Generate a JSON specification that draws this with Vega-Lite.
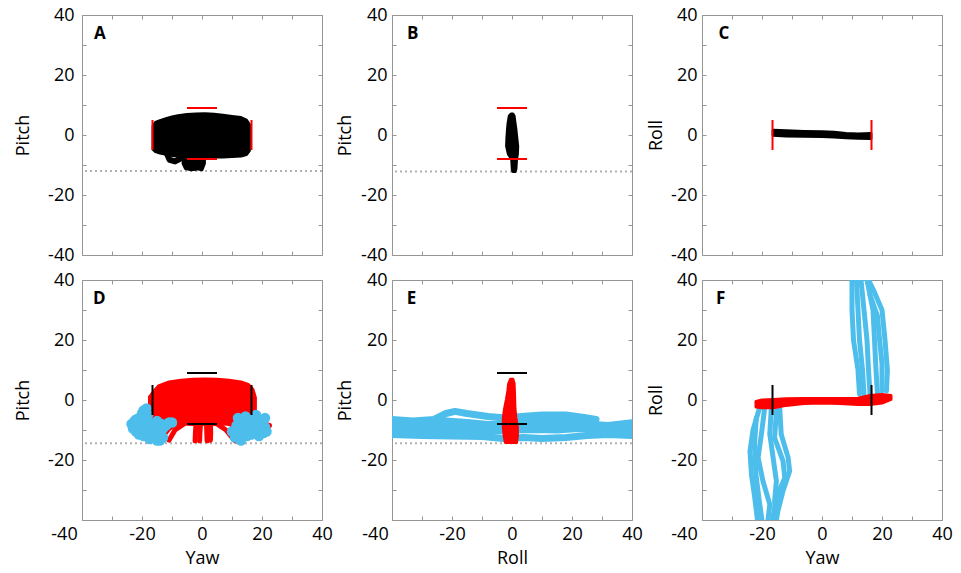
{
"$schema": "https://vega.github.io/schema/vega-lite/v6.json",
"background": "white",
"padding": {"left": 14, "top": 5, "right": 0, "bottom": 0},
"config": {
 "view": {"stroke": "#969696", "strokeWidth": 1},
 "font": "Open Sans",
 "axis": {"domain": false, "grid": false, "tickColor": "#969696", "tickSize": -4, "tickWidth": 1, "labelFont": "Open Sans", "labelFontSize": 18, "labelColor": "#000", "titleFont": "Open Sans", "titleFontSize": 18, "titleFontWeight": "normal", "titleColor": "#000", "labelOverlap": false, "labelFlush": false, "labelBound": false}
},
"datasets": {
 "mk4": [{"x":-16.5,"y":-5,"x2":-16.5,"y2":5},{"x":16.5,"y":-5,"x2":16.5,"y2":5},{"x":-5,"y":9,"x2":5,"y2":9},{"x":-5,"y":-8,"x2":5,"y2":-8}],
 "mkH": [{"x":-5,"y":9,"x2":5,"y2":9},{"x":-5,"y":-8,"x2":5,"y2":-8}],
 "mkV": [{"x":-16.5,"y":-5,"x2":-16.5,"y2":5},{"x":16.5,"y":-5,"x2":16.5,"y2":5}],
 "arA": [
  {"g":"m","x":-16.3,"t":3,"b":-4.8},{"g":"m","x":-15.5,"t":4.2,"b":-5.5},{"g":"m","x":-14,"t":4.8,"b":-6},{"g":"m","x":-12,"t":5.4,"b":-6.4},{"g":"m","x":-10,"t":6,"b":-6.8},{"g":"m","x":-8,"t":6.4,"b":-7},{"g":"m","x":-5,"t":6.8,"b":-7.2},{"g":"m","x":-2,"t":7,"b":-7.3},{"g":"m","x":1,"t":7.1,"b":-7.3},{"g":"m","x":4,"t":6.9,"b":-7.3},{"g":"m","x":7,"t":6.6,"b":-7.3},{"g":"m","x":10,"t":6.2,"b":-7.2},{"g":"m","x":13,"t":5.8,"b":-7},{"g":"m","x":14.8,"t":5,"b":-6.5},{"g":"m","x":15.8,"t":3.5,"b":-5.2},
  {"g":"b","x":-6.3,"t":-7,"b":-9.5},{"g":"b","x":-5.5,"t":-7,"b":-11.2},{"g":"b","x":-3.5,"t":-7,"b":-11.6},{"g":"b","x":-1.5,"t":-7,"b":-11.3},{"g":"b","x":0,"t":-7,"b":-11.6},{"g":"b","x":0.8,"t":-7,"b":-9.5}
 ],
 "trA": [{"g":"1","i":0,"x":-12,"y":-5.5},{"g":"1","i":1,"x":-10.8,"y":-8.3},{"g":"1","i":2,"x":-9,"y":-8.8},{"g":"1","i":3,"x":-7.5,"y":-8}],
 "arB": [
  {"y":7.0,"l":-0.3,"r":0.3},{"y":6.3,"l":-0.9,"r":0.7},{"y":4,"l":-1.3,"r":1.0},{"y":1.9,"l":-1.5,"r":1.3},{"y":-1,"l":-1.7,"r":1.6},{"y":-3.7,"l":-1.8,"r":1.9},{"y":-6.4,"l":-1.2,"r":1.8},{"y":-8.1,"l":-0.1,"r":1.5},{"y":-11.4,"l":0.1,"r":1.3},{"y":-12.2,"l":0.3,"r":1.0}
 ],
 "arC": [
  {"x":-16.3,"t":1.6,"b":-0.1},{"x":-12,"t":1.4,"b":-0.3},{"x":-6,"t":1.2,"b":-0.4},{"x":0,"t":1.1,"b":-0.5},{"x":4,"t":0.9,"b":-0.7},{"x":8,"t":0.5,"b":-0.9},{"x":12,"t":0.3,"b":-1.1},{"x":16.3,"t":0.5,"b":-1.2}
 ],
 "arD": [
  {"x":-17.5,"t":1.0,"b":-5.5},{"x":-16,"t":3.0,"b":-6.5},{"x":-14.5,"t":4.7,"b":-7},{"x":-11,"t":6.0,"b":-7.5},{"x":-7,"t":6.6,"b":-8},{"x":-3,"t":6.9,"b":-8.2},{"x":1,"t":7.0,"b":-8.2},{"x":5,"t":6.9,"b":-8.2},{"x":9,"t":6.6,"b":-8},{"x":13,"t":6.0,"b":-7.5},{"x":15.4,"t":5.2,"b":-7},{"x":17,"t":3.5,"b":-6},{"x":17.8,"t":0.8,"b":-5}
 ],
 "trD": [
  {"g":"1","i":0,"x":-8,"y":-7.5},{"g":"1","i":1,"x":-11,"y":-9.5},{"g":"1","i":2,"x":-13,"y":-12},{"g":"1","i":3,"x":-13.5,"y":-13.6},
  {"g":"2","i":0,"x":-6,"y":-8},{"g":"2","i":1,"x":-9,"y":-10},{"g":"2","i":2,"x":-11,"y":-13.4},
  {"g":"3","i":0,"x":-2,"y":-8},{"g":"3","i":1,"x":-2.2,"y":-11},{"g":"3","i":2,"x":-2.3,"y":-13.6},
  {"g":"4","i":0,"x":-0.5,"y":-8},{"g":"4","i":1,"x":-0.7,"y":-11},{"g":"4","i":2,"x":-0.8,"y":-13.6},
  {"g":"5","i":0,"x":1.5,"y":-8},{"g":"5","i":1,"x":1.6,"y":-11},{"g":"5","i":2,"x":1.7,"y":-13.6},
  {"g":"6","i":0,"x":2.8,"y":-8},{"g":"6","i":1,"x":2.9,"y":-11},{"g":"6","i":2,"x":2.8,"y":-13.4},
  {"g":"7","i":0,"x":5,"y":-8},{"g":"7","i":1,"x":8,"y":-10},{"g":"7","i":2,"x":10,"y":-12.5},{"g":"7","i":3,"x":11,"y":-13.6},
  {"g":"8","i":0,"x":8,"y":-7.5},{"g":"8","i":1,"x":12,"y":-9},{"g":"8","i":2,"x":14,"y":-12},
  {"g":"9","i":0,"x":15,"y":-6},{"g":"9","i":1,"x":19,"y":-7.5},{"g":"9","i":2,"x":22.5,"y":-8.5},
  {"g":"10","i":0,"x":-16,"y":-4.5},{"g":"10","i":1,"x":-18.5,"y":-6.5},{"g":"10","i":2,"x":-19.5,"y":-8}
 ],
 "ptD": [
  {"x":-23.5,"y":-8},{"x":-23,"y":-9.5},{"x":-22.5,"y":-7},{"x":-22,"y":-10.5},{"x":-21.5,"y":-8.5},{"x":-21,"y":-6},{"x":-21,"y":-11.5},{"x":-20.5,"y":-9.5},{"x":-20,"y":-7.5},{"x":-20,"y":-4.5},{"x":-19.5,"y":-3.5},{"x":-19.5,"y":-12},{"x":-19,"y":-10},{"x":-19,"y":-6},{"x":-18.5,"y":-8.5},{"x":-18,"y":-11},{"x":-18,"y":-5},{"x":-17.5,"y":-13},{"x":-17.5,"y":-7.5},{"x":-17,"y":-9.5},{"x":-16.5,"y":-12},{"x":-16,"y":-8},{"x":-15.5,"y":-10.5},{"x":-15,"y":-13.5},{"x":-15,"y":-7},{"x":-14.5,"y":-9},{"x":-14,"y":-11.5},{"x":-13.5,"y":-8},{"x":-13,"y":-9.5},{"x":-12,"y":-8.5},{"x":-11,"y":-7.5},{"x":-10,"y":-7.5},{"x":-13,"y":-12.5},{"x":-14,"y":-13.5},{"x":-22,"y":-6.5},{"x":-18.5,"y":-2.8},
  {"x":10,"y":-10.5},{"x":11,"y":-12.5},{"x":11.5,"y":-8.5},{"x":12,"y":-6},{"x":12.5,"y":-10},{"x":13,"y":-13.5},{"x":13,"y":-7.5},{"x":13.5,"y":-11.5},{"x":14,"y":-9},{"x":14.5,"y":-5.5},{"x":15,"y":-12},{"x":15,"y":-7.5},{"x":15.5,"y":-10},{"x":16,"y":-8.5},{"x":16.5,"y":-6.5},{"x":16.5,"y":-11.5},{"x":17,"y":-9.5},{"x":17.5,"y":-7.5},{"x":18,"y":-5},{"x":18,"y":-10.5},{"x":18.5,"y":-8.5},{"x":19,"y":-12},{"x":19,"y":-6.5},{"x":19.5,"y":-9.5},{"x":20,"y":-7.5},{"x":20.5,"y":-11},{"x":21,"y":-9},{"x":21.5,"y":-10.5},{"x":21,"y":-6},{"x":12,"y":-11.5}
 ],
 "arE": [
  {"y":6.9,"l":-0.5,"r":0.3},{"y":5.5,"l":-1.1,"r":0.7},{"y":3,"l":-1.4,"r":0.8},{"y":0,"l":-1.9,"r":0.9},{"y":-3,"l":-2.5,"r":1.0},{"y":-6,"l":-2.9,"r":1.3},{"y":-9,"l":-2.9,"r":1.8},{"y":-12,"l":-2.6,"r":1.8},{"y":-14.2,"l":-2.2,"r":1.5}
 ],
 "trE": [
  {"g":"1","i":0,"x":-40,"y":-6.5},{"g":"1","i":1,"x":-33,"y":-7},{"g":"1","i":2,"x":-26,"y":-6.5},{"g":"1","i":3,"x":-22,"y":-4.5},{"g":"1","i":4,"x":-19,"y":-3.8},{"g":"1","i":5,"x":-15,"y":-4.5},{"g":"1","i":6,"x":-8,"y":-5.5},{"g":"1","i":7,"x":-2,"y":-6},{"g":"1","i":8,"x":3,"y":-5.5},{"g":"1","i":9,"x":10,"y":-5},{"g":"1","i":10,"x":18,"y":-5},{"g":"1","i":11,"x":24,"y":-5.8},{"g":"1","i":12,"x":28,"y":-6.5},
  {"g":"2","i":0,"x":-40,"y":-8.5},{"g":"2","i":1,"x":-30,"y":-8.5},{"g":"2","i":2,"x":-22,"y":-7},{"g":"2","i":3,"x":-15,"y":-7.5},{"g":"2","i":4,"x":-8,"y":-8.2},{"g":"2","i":5,"x":-2,"y":-7.8},{"g":"2","i":6,"x":4,"y":-7.2},{"g":"2","i":7,"x":10,"y":-7},{"g":"2","i":8,"x":18,"y":-7.2},{"g":"2","i":9,"x":25,"y":-8},{"g":"2","i":10,"x":32,"y":-8.5},{"g":"2","i":11,"x":40,"y":-7.6},
  {"g":"5","i":0,"x":-40,"y":-9.5},{"g":"5","i":1,"x":-28,"y":-9.8},{"g":"5","i":2,"x":-20,"y":-9},{"g":"5","i":3,"x":-10,"y":-9.3},{"g":"5","i":4,"x":0,"y":-9},{"g":"5","i":5,"x":10,"y":-8.4},{"g":"5","i":6,"x":20,"y":-8.6},{"g":"5","i":7,"x":28,"y":-9},{"g":"5","i":8,"x":36,"y":-9.5},{"g":"5","i":9,"x":40,"y":-9},
  {"g":"3","i":0,"x":-40,"y":-10.5},{"g":"3","i":1,"x":-30,"y":-10.8},{"g":"3","i":2,"x":-22,"y":-10.5},{"g":"3","i":3,"x":-15,"y":-10.8},{"g":"3","i":4,"x":-8,"y":-10.5},{"g":"3","i":5,"x":0,"y":-10},{"g":"3","i":6,"x":8,"y":-9.8},{"g":"3","i":7,"x":15,"y":-10},{"g":"3","i":8,"x":22,"y":-9.5},{"g":"3","i":9,"x":30,"y":-10},{"g":"3","i":10,"x":40,"y":-10},
  {"g":"4","i":0,"x":-40,"y":-11.5},{"g":"4","i":1,"x":-30,"y":-11.8},{"g":"4","i":2,"x":-20,"y":-12},{"g":"4","i":3,"x":-10,"y":-12.2},{"g":"4","i":4,"x":-3,"y":-12.8},{"g":"4","i":5,"x":4,"y":-12.5},{"g":"4","i":6,"x":10,"y":-12.8},{"g":"4","i":7,"x":18,"y":-12.5},{"g":"4","i":8,"x":25,"y":-11.8},{"g":"4","i":9,"x":32,"y":-11.5},{"g":"4","i":10,"x":40,"y":-11.8}
 ],
 "arF": [
  {"x":-22,"t":-0.5,"b":-2.3},{"x":-20,"t":0,"b":-2.6},{"x":-16,"t":0.2,"b":-2.6},{"x":-12,"t":0.4,"b":-1.8},{"x":-6,"t":0.5,"b":-1.2},{"x":0,"t":0.5,"b":-1.0},{"x":6,"t":0.5,"b":-1.2},{"x":12,"t":0.6,"b":-1.5},{"x":16,"t":1.5,"b":-1.5},{"x":20,"t":1.8,"b":-1.0},{"x":23,"t":1.5,"b":0.2}
 ],
 "trF": [
  {"g":"L1","i":0,"x":-20.8,"y":-2.6},{"g":"L1","i":1,"x":-23,"y":-10},{"g":"L1","i":2,"x":-24,"y":-17},{"g":"L1","i":3,"x":-23.5,"y":-25},{"g":"L1","i":4,"x":-22.5,"y":-32},{"g":"L1","i":5,"x":-21.5,"y":-40},
  {"g":"L2","i":0,"x":-19.1,"y":-2.6},{"g":"L2","i":1,"x":-20.2,"y":-11.4},{"g":"L2","i":2,"x":-21.3,"y":-19.2},{"g":"L2","i":3,"x":-19.7,"y":-27},{"g":"L2","i":4,"x":-17.4,"y":-34.8},{"g":"L2","i":5,"x":-18,"y":-40},
  {"g":"L3","i":0,"x":-16.9,"y":-2.6},{"g":"L3","i":1,"x":-17.4,"y":-11.4},{"g":"L3","i":2,"x":-16.3,"y":-19.2},{"g":"L3","i":3,"x":-15.2,"y":-27},{"g":"L3","i":4,"x":-15.8,"y":-33.7},{"g":"L3","i":5,"x":-15.2,"y":-40},
  {"g":"L4","i":0,"x":-14.1,"y":-2.6},{"g":"L4","i":1,"x":-13.6,"y":-11.4},{"g":"L4","i":2,"x":-11.3,"y":-19.2},{"g":"L4","i":3,"x":-10.8,"y":-23.7},{"g":"L4","i":4,"x":-13,"y":-30.3},{"g":"L4","i":5,"x":-14.7,"y":-37},{"g":"L4","i":6,"x":-15.2,"y":-40},
  {"g":"L5","i":0,"x":-15.2,"y":-3.7},{"g":"L5","i":1,"x":-15.8,"y":-12.6},{"g":"L5","i":2,"x":-13,"y":-20.3},{"g":"L5","i":3,"x":-12.4,"y":-25.9},{"g":"L5","i":4,"x":-15.2,"y":-32.6},{"g":"L5","i":5,"x":-16.5,"y":-40},
  {"g":"L6","i":0,"x":-21.9,"y":-6},{"g":"L6","i":1,"x":-22.5,"y":-15},{"g":"L6","i":2,"x":-22,"y":-25},{"g":"L6","i":3,"x":-21,"y":-33},{"g":"L6","i":4,"x":-20,"y":-40},
  {"g":"U1","i":0,"x":12.5,"y":2},{"g":"U1","i":1,"x":12,"y":10},{"g":"U1","i":2,"x":10.5,"y":20},{"g":"U1","i":3,"x":10,"y":30},{"g":"U1","i":4,"x":10,"y":40},
  {"g":"U2","i":0,"x":14,"y":2},{"g":"U2","i":1,"x":13.5,"y":10},{"g":"U2","i":2,"x":12.5,"y":20},{"g":"U2","i":3,"x":12,"y":30},{"g":"U2","i":4,"x":11.5,"y":40},
  {"g":"U3","i":0,"x":16,"y":2},{"g":"U3","i":1,"x":15.5,"y":10},{"g":"U3","i":2,"x":15,"y":20},{"g":"U3","i":3,"x":14,"y":30},{"g":"U3","i":4,"x":13,"y":40},
  {"g":"U4","i":0,"x":18.5,"y":2},{"g":"U4","i":1,"x":18,"y":10},{"g":"U4","i":2,"x":17.5,"y":20},{"g":"U4","i":3,"x":17,"y":30},{"g":"U4","i":4,"x":15,"y":40},
  {"g":"U5","i":0,"x":21.5,"y":3},{"g":"U5","i":1,"x":21.8,"y":10},{"g":"U5","i":2,"x":21,"y":20},{"g":"U5","i":3,"x":20,"y":30},{"g":"U5","i":4,"x":17,"y":37},{"g":"U5","i":5,"x":15.5,"y":40},
  {"g":"U6","i":0,"x":20,"y":3},{"g":"U6","i":1,"x":20,"y":12},{"g":"U6","i":2,"x":19,"y":22},{"g":"U6","i":3,"x":18.5,"y":28},{"g":"U6","i":4,"x":16,"y":35}
 ]
},
"columns": 3,
"spacing": {"row": 25, "column": 70},
"bounds": "flush",
"concat": [
 {
  "width": 240, "height": 240,
  "resolve": {"axis": {"x": "independent", "y": "independent"}},
  "layer": [
   {"data": {"name": "mk4"}, "mark": {"type": "rule", "opacity": 0}, "encoding": {"x": {"field": "x", "type": "quantitative", "scale": {"domain": [-40,40], "nice": false, "zero": false}, "axis": {"orient": "top", "values": [-40,-30,-20,-10,0,10,20,30,40], "labels": false, "title": null}}, "y": {"field": "y", "type": "quantitative", "scale": {"domain": [-40,40], "nice": false, "zero": false}, "axis": {"orient": "right", "values": [-40,-30,-20,-10,0,10,20,30,40], "labels": false, "title": null}}}},
   {"data": {"values": [{"v": -12}]}, "mark": {"type": "rule", "color": "#b0b0b0", "strokeDash": [2,3], "strokeWidth": 2}, "encoding": {"y": {"field": "v", "type": "quantitative", "scale": {"domain": [-40,40], "nice": false, "zero": false}, "axis": null}}},
   {"data": {"name": "arA"}, "mark": {"type": "area", "color": "#000", "stroke": "#000", "strokeWidth": 3, "strokeJoin": "round", "clip": true}, "encoding": {"x": {"field": "x", "type": "quantitative", "scale": {"domain": [-40,40], "nice": false, "zero": false}, "axis": null}, "y": {"field": "t", "type": "quantitative", "scale": {"domain": [-40,40], "nice": false, "zero": false}, "axis": null}, "y2": {"field": "b"}, "detail": {"field": "g"}}},
   {"data": {"name": "trA"}, "mark": {"type": "line", "color": "#000", "strokeWidth": 6, "strokeCap": "round", "strokeJoin": "round"}, "encoding": {"x": {"field": "x", "type": "quantitative", "scale": {"domain": [-40,40], "nice": false, "zero": false}, "axis": null}, "y": {"field": "y", "type": "quantitative", "scale": {"domain": [-40,40], "nice": false, "zero": false}, "axis": null}, "detail": {"field": "g"}, "order": {"field": "i"}}},
   {"data": {"name": "mk4"}, "mark": {"type": "rule", "color": "#ff0000", "strokeWidth": 2}, "encoding": {"x": {"field": "x", "type": "quantitative", "scale": {"domain": [-40,40], "nice": false, "zero": false}, "axis": {"orient": "bottom", "values": [-40,-30,-20,-10,0,10,20,30,40], "labels": false, "title": null}}, "y": {"field": "y", "type": "quantitative", "scale": {"domain": [-40,40], "nice": false, "zero": false}, "axis": {"orient": "left", "values": [-40,-30,-20,-10,0,10,20,30,40], "labelExpr": "datum.value % 20 === 0 ? '' + datum.value : ''", "title": "Pitch", "labelPadding": 12, "titlePadding": 15}}, "x2": {"field": "x2"}, "y2": {"field": "y2"}}},
   {"data": {"values": [{"x": -36, "y": 32, "t": "A"}]}, "mark": {"type": "text", "align": "left", "baseline": "alphabetic", "fontSize": 17, "fontWeight": "bold", "font": "Open Sans"}, "encoding": {"x": {"field": "x", "type": "quantitative", "scale": {"domain": [-40,40], "nice": false, "zero": false}, "axis": null}, "y": {"field": "y", "type": "quantitative", "scale": {"domain": [-40,40], "nice": false, "zero": false}, "axis": null}, "text": {"field": "t"}}}
  ]
 },
 {
  "width": 240, "height": 240,
  "resolve": {"axis": {"x": "independent", "y": "independent"}},
  "layer": [
   {"data": {"name": "mkH"}, "mark": {"type": "rule", "opacity": 0}, "encoding": {"x": {"field": "x", "type": "quantitative", "scale": {"domain": [-40,40], "nice": false, "zero": false}, "axis": {"orient": "top", "values": [-40,-30,-20,-10,0,10,20,30,40], "labels": false, "title": null}}, "y": {"field": "y", "type": "quantitative", "scale": {"domain": [-40,40], "nice": false, "zero": false}, "axis": {"orient": "right", "values": [-40,-30,-20,-10,0,10,20,30,40], "labels": false, "title": null}}}},
   {"data": {"values": [{"v": -12.2}]}, "mark": {"type": "rule", "color": "#b0b0b0", "strokeDash": [2,3], "strokeWidth": 2}, "encoding": {"y": {"field": "v", "type": "quantitative", "scale": {"domain": [-40,40], "nice": false, "zero": false}, "axis": null}}},
   {"data": {"name": "arB"}, "mark": {"type": "area", "orient": "horizontal", "color": "#000", "stroke": "#000", "strokeWidth": 3, "strokeJoin": "round", "clip": true}, "encoding": {"y": {"field": "y", "type": "quantitative", "scale": {"domain": [-40,40], "nice": false, "zero": false}, "axis": null}, "x": {"field": "l", "type": "quantitative", "scale": {"domain": [-40,40], "nice": false, "zero": false}, "axis": null}, "x2": {"field": "r"}}},
   {"data": {"name": "mkH"}, "mark": {"type": "rule", "color": "#ff0000", "strokeWidth": 2}, "encoding": {"x": {"field": "x", "type": "quantitative", "scale": {"domain": [-40,40], "nice": false, "zero": false}, "axis": {"orient": "bottom", "values": [-40,-30,-20,-10,0,10,20,30,40], "labels": false, "title": null}}, "y": {"field": "y", "type": "quantitative", "scale": {"domain": [-40,40], "nice": false, "zero": false}, "axis": {"orient": "left", "values": [-40,-30,-20,-10,0,10,20,30,40], "labelExpr": "datum.value % 20 === 0 ? '' + datum.value : ''", "title": "Pitch", "labelPadding": 9, "titlePadding": 6}}, "x2": {"field": "x2"}, "y2": {"field": "y2"}}},
   {"data": {"values": [{"x": -35, "y": 32, "t": "B"}]}, "mark": {"type": "text", "align": "left", "baseline": "alphabetic", "fontSize": 17, "fontWeight": "bold", "font": "Open Sans"}, "encoding": {"x": {"field": "x", "type": "quantitative", "scale": {"domain": [-40,40], "nice": false, "zero": false}, "axis": null}, "y": {"field": "y", "type": "quantitative", "scale": {"domain": [-40,40], "nice": false, "zero": false}, "axis": null}, "text": {"field": "t"}}}
  ]
 },
 {
  "width": 240, "height": 240,
  "resolve": {"axis": {"x": "independent", "y": "independent"}},
  "layer": [
   {"data": {"name": "mkV"}, "mark": {"type": "rule", "opacity": 0}, "encoding": {"x": {"field": "x", "type": "quantitative", "scale": {"domain": [-40,40], "nice": false, "zero": false}, "axis": {"orient": "top", "values": [-40,-30,-20,-10,0,10,20,30,40], "labels": false, "title": null}}, "y": {"field": "y", "type": "quantitative", "scale": {"domain": [-40,40], "nice": false, "zero": false}, "axis": {"orient": "right", "values": [-40,-30,-20,-10,0,10,20,30,40], "labels": false, "title": null}}}},
   {"data": {"name": "arC"}, "mark": {"type": "area", "color": "#000", "stroke": "#000", "strokeWidth": 3, "strokeJoin": "round", "clip": true}, "encoding": {"x": {"field": "x", "type": "quantitative", "scale": {"domain": [-40,40], "nice": false, "zero": false}, "axis": null}, "y": {"field": "t", "type": "quantitative", "scale": {"domain": [-40,40], "nice": false, "zero": false}, "axis": null}, "y2": {"field": "b"}}},
   {"data": {"name": "mkV"}, "mark": {"type": "rule", "color": "#ff0000", "strokeWidth": 2}, "encoding": {"x": {"field": "x", "type": "quantitative", "scale": {"domain": [-40,40], "nice": false, "zero": false}, "axis": {"orient": "bottom", "values": [-40,-30,-20,-10,0,10,20,30,40], "labels": false, "title": null}}, "y": {"field": "y", "type": "quantitative", "scale": {"domain": [-40,40], "nice": false, "zero": false}, "axis": {"orient": "left", "values": [-40,-30,-20,-10,0,10,20,30,40], "labelExpr": "datum.value % 20 === 0 ? '' + datum.value : ''", "title": "Roll", "labelPadding": 9, "titlePadding": 5.5}}, "x2": {"field": "x2"}, "y2": {"field": "y2"}}},
   {"data": {"values": [{"x": -34.5, "y": 32, "t": "C"}]}, "mark": {"type": "text", "align": "left", "baseline": "alphabetic", "fontSize": 17, "fontWeight": "bold", "font": "Open Sans"}, "encoding": {"x": {"field": "x", "type": "quantitative", "scale": {"domain": [-40,40], "nice": false, "zero": false}, "axis": null}, "y": {"field": "y", "type": "quantitative", "scale": {"domain": [-40,40], "nice": false, "zero": false}, "axis": null}, "text": {"field": "t"}}}
  ]
 },
 {
  "width": 240, "height": 240,
  "resolve": {"axis": {"x": "independent", "y": "independent"}},
  "layer": [
   {"data": {"name": "mk4"}, "mark": {"type": "rule", "opacity": 0}, "encoding": {"x": {"field": "x", "type": "quantitative", "scale": {"domain": [-40,40], "nice": false, "zero": false}, "axis": {"orient": "top", "values": [-40,-30,-20,-10,0,10,20,30,40], "labels": false, "title": null}}, "y": {"field": "y", "type": "quantitative", "scale": {"domain": [-40,40], "nice": false, "zero": false}, "axis": {"orient": "right", "values": [-40,-30,-20,-10,0,10,20,30,40], "labels": false, "title": null}}}},
   {"data": {"values": [{"v": -14.4}]}, "mark": {"type": "rule", "color": "#b0b0b0", "strokeDash": [2,3], "strokeWidth": 2}, "encoding": {"y": {"field": "v", "type": "quantitative", "scale": {"domain": [-40,40], "nice": false, "zero": false}, "axis": null}}},
   {"data": {"name": "arD"}, "mark": {"type": "area", "color": "#ff0000", "stroke": "#ff0000", "strokeWidth": 3, "strokeJoin": "round", "clip": true}, "encoding": {"x": {"field": "x", "type": "quantitative", "scale": {"domain": [-40,40], "nice": false, "zero": false}, "axis": null}, "y": {"field": "t", "type": "quantitative", "scale": {"domain": [-40,40], "nice": false, "zero": false}, "axis": null}, "y2": {"field": "b"}}},
   {"data": {"name": "trD"}, "mark": {"type": "line", "color": "#ff0000", "strokeWidth": 5, "strokeCap": "round", "strokeJoin": "round"}, "encoding": {"x": {"field": "x", "type": "quantitative", "scale": {"domain": [-40,40], "nice": false, "zero": false}, "axis": null}, "y": {"field": "y", "type": "quantitative", "scale": {"domain": [-40,40], "nice": false, "zero": false}, "axis": null}, "detail": {"field": "g"}, "order": {"field": "i"}}},
   {"data": {"name": "ptD"}, "mark": {"type": "circle", "color": "#4dbeeb", "opacity": 1, "size": 110}, "encoding": {"x": {"field": "x", "type": "quantitative", "scale": {"domain": [-40,40], "nice": false, "zero": false}, "axis": null}, "y": {"field": "y", "type": "quantitative", "scale": {"domain": [-40,40], "nice": false, "zero": false}, "axis": null}}},
   {"data": {"name": "mk4"}, "mark": {"type": "rule", "color": "#000", "strokeWidth": 2}, "encoding": {"x": {"field": "x", "type": "quantitative", "scale": {"domain": [-40,40], "nice": false, "zero": false}, "axis": {"orient": "bottom", "values": [-40,-30,-20,-10,0,10,20,30,40], "labelExpr": "datum.value % 20 === 0 ? '' + datum.value : ''", "labelOffset": {"condition": {"test": "datum.value === -40", "value": -18}, "value": 0}, "title": "Yaw", "labelPadding": 9, "titlePadding": 6}}, "y": {"field": "y", "type": "quantitative", "scale": {"domain": [-40,40], "nice": false, "zero": false}, "axis": {"orient": "left", "values": [-40,-30,-20,-10,0,10,20,30,40], "labelExpr": "datum.value % 20 === 0 && datum.value > -40 ? '' + datum.value : ''", "title": "Pitch", "labelPadding": 12, "titlePadding": 15}}, "x2": {"field": "x2"}, "y2": {"field": "y2"}}},
   {"data": {"values": [{"x": -36.3, "y": 32, "t": "D"}]}, "mark": {"type": "text", "align": "left", "baseline": "alphabetic", "fontSize": 17, "fontWeight": "bold", "font": "Open Sans"}, "encoding": {"x": {"field": "x", "type": "quantitative", "scale": {"domain": [-40,40], "nice": false, "zero": false}, "axis": null}, "y": {"field": "y", "type": "quantitative", "scale": {"domain": [-40,40], "nice": false, "zero": false}, "axis": null}, "text": {"field": "t"}}}
  ]
 },
 {
  "width": 240, "height": 240,
  "resolve": {"axis": {"x": "independent", "y": "independent"}},
  "layer": [
   {"data": {"name": "mkH"}, "mark": {"type": "rule", "opacity": 0}, "encoding": {"x": {"field": "x", "type": "quantitative", "scale": {"domain": [-40,40], "nice": false, "zero": false}, "axis": {"orient": "top", "values": [-40,-30,-20,-10,0,10,20,30,40], "labels": false, "title": null}}, "y": {"field": "y", "type": "quantitative", "scale": {"domain": [-40,40], "nice": false, "zero": false}, "axis": {"orient": "right", "values": [-40,-30,-20,-10,0,10,20,30,40], "labels": false, "title": null}}}},
   {"data": {"values": [{"v": -14.4}]}, "mark": {"type": "rule", "color": "#b0b0b0", "strokeDash": [2,3], "strokeWidth": 2}, "encoding": {"y": {"field": "v", "type": "quantitative", "scale": {"domain": [-40,40], "nice": false, "zero": false}, "axis": null}}},
   {"data": {"name": "trE"}, "mark": {"type": "line", "color": "#4dbeeb", "strokeWidth": 7, "strokeCap": "round", "strokeJoin": "round", "clip": true}, "encoding": {"x": {"field": "x", "type": "quantitative", "scale": {"domain": [-40,40], "nice": false, "zero": false}, "axis": null}, "y": {"field": "y", "type": "quantitative", "scale": {"domain": [-40,40], "nice": false, "zero": false}, "axis": null}, "detail": {"field": "g"}, "order": {"field": "i"}}},
   {"data": {"name": "arE"}, "mark": {"type": "area", "orient": "horizontal", "color": "#ff0000", "stroke": "#ff0000", "strokeWidth": 3, "strokeJoin": "round", "clip": true}, "encoding": {"y": {"field": "y", "type": "quantitative", "scale": {"domain": [-40,40], "nice": false, "zero": false}, "axis": null}, "x": {"field": "l", "type": "quantitative", "scale": {"domain": [-40,40], "nice": false, "zero": false}, "axis": null}, "x2": {"field": "r"}}},
   {"data": {"name": "mkH"}, "mark": {"type": "rule", "color": "#000", "strokeWidth": 2}, "encoding": {"x": {"field": "x", "type": "quantitative", "scale": {"domain": [-40,40], "nice": false, "zero": false}, "axis": {"orient": "bottom", "values": [-40,-30,-20,-10,0,10,20,30,40], "labelExpr": "datum.value % 20 === 0 ? '' + datum.value : ''", "labelOffset": {"condition": {"test": "datum.value === -40", "value": -17}, "value": 0}, "title": "Roll", "labelPadding": 9, "titlePadding": 6}}, "y": {"field": "y", "type": "quantitative", "scale": {"domain": [-40,40], "nice": false, "zero": false}, "axis": {"orient": "left", "values": [-40,-30,-20,-10,0,10,20,30,40], "labelExpr": "datum.value % 20 === 0 && datum.value > -40 ? '' + datum.value : ''", "title": "Pitch", "labelPadding": 9, "titlePadding": 6}}, "x2": {"field": "x2"}, "y2": {"field": "y2"}}},
   {"data": {"values": [{"x": -35.1, "y": 32, "t": "E"}]}, "mark": {"type": "text", "align": "left", "baseline": "alphabetic", "fontSize": 17, "fontWeight": "bold", "font": "Open Sans"}, "encoding": {"x": {"field": "x", "type": "quantitative", "scale": {"domain": [-40,40], "nice": false, "zero": false}, "axis": null}, "y": {"field": "y", "type": "quantitative", "scale": {"domain": [-40,40], "nice": false, "zero": false}, "axis": null}, "text": {"field": "t"}}}
  ]
 },
 {
  "width": 240, "height": 240,
  "resolve": {"axis": {"x": "independent", "y": "independent"}},
  "layer": [
   {"data": {"name": "mkV"}, "mark": {"type": "rule", "opacity": 0}, "encoding": {"x": {"field": "x", "type": "quantitative", "scale": {"domain": [-40,40], "nice": false, "zero": false}, "axis": {"orient": "top", "values": [-40,-30,-20,-10,0,10,20,30,40], "labels": false, "title": null}}, "y": {"field": "y", "type": "quantitative", "scale": {"domain": [-40,40], "nice": false, "zero": false}, "axis": {"orient": "right", "values": [-40,-30,-20,-10,0,10,20,30,40], "labels": false, "title": null}}}},
   {"data": {"name": "trF"}, "mark": {"type": "line", "color": "#4dbeeb", "strokeWidth": 5, "strokeCap": "round", "strokeJoin": "round", "clip": true}, "encoding": {"x": {"field": "x", "type": "quantitative", "scale": {"domain": [-40,40], "nice": false, "zero": false}, "axis": null}, "y": {"field": "y", "type": "quantitative", "scale": {"domain": [-40,40], "nice": false, "zero": false}, "axis": null}, "detail": {"field": "g"}, "order": {"field": "i"}}},
   {"data": {"name": "arF"}, "mark": {"type": "area", "color": "#ff0000", "stroke": "#ff0000", "strokeWidth": 3, "strokeJoin": "round", "clip": true}, "encoding": {"x": {"field": "x", "type": "quantitative", "scale": {"domain": [-40,40], "nice": false, "zero": false}, "axis": null}, "y": {"field": "t", "type": "quantitative", "scale": {"domain": [-40,40], "nice": false, "zero": false}, "axis": null}, "y2": {"field": "b"}}},
   {"data": {"name": "mkV"}, "mark": {"type": "rule", "color": "#000", "strokeWidth": 2}, "encoding": {"x": {"field": "x", "type": "quantitative", "scale": {"domain": [-40,40], "nice": false, "zero": false}, "axis": {"orient": "bottom", "values": [-40,-30,-20,-10,0,10,20,30,40], "labelExpr": "datum.value % 20 === 0 ? '' + datum.value : ''", "labelOffset": {"condition": {"test": "datum.value === -40", "value": -18}, "value": 0}, "title": "Yaw", "labelPadding": 9, "titlePadding": 6}}, "y": {"field": "y", "type": "quantitative", "scale": {"domain": [-40,40], "nice": false, "zero": false}, "axis": {"orient": "left", "values": [-40,-30,-20,-10,0,10,20,30,40], "labelExpr": "datum.value % 20 === 0 && datum.value > -40 ? '' + datum.value : ''", "title": "Roll", "labelPadding": 9, "titlePadding": 5.5}}, "x2": {"field": "x2"}, "y2": {"field": "y2"}}},
   {"data": {"values": [{"x": -35.3, "y": 32, "t": "F"}]}, "mark": {"type": "text", "align": "left", "baseline": "alphabetic", "fontSize": 17, "fontWeight": "bold", "font": "Open Sans"}, "encoding": {"x": {"field": "x", "type": "quantitative", "scale": {"domain": [-40,40], "nice": false, "zero": false}, "axis": null}, "y": {"field": "y", "type": "quantitative", "scale": {"domain": [-40,40], "nice": false, "zero": false}, "axis": null}, "text": {"field": "t"}}}
  ]
 }
]
}
